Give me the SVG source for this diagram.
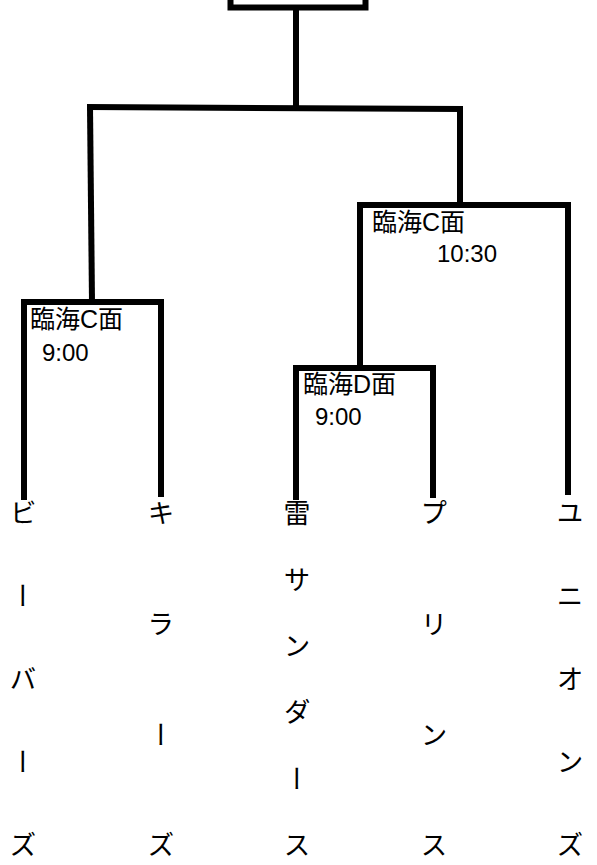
<svg xmlns="http://www.w3.org/2000/svg" width="597" height="865" viewBox="0 0 597 865">
<style>
.ln{fill:none;stroke:#000;stroke-width:6;stroke-linecap:butt;stroke-linejoin:miter}
.lbl{font-family:"Liberation Sans","Noto Sans CJK JP",sans-serif;font-size:25px;fill:#000}
.num{font-family:"Liberation Sans","Noto Sans CJK JP",sans-serif;font-size:24px;fill:#000}
.team{font-family:"Noto Sans CJK JP",sans-serif;font-size:27px;fill:#000;writing-mode:vertical-rl;text-anchor:middle}
</style>
<rect width="597" height="865" fill="#fff"/>
<g id="final">
<rect class="ln" x="230.5" y="-10" width="135" height="17.5"/>
</g>
<g id="connectors">
<path class="ln" d="M296,8 L296,108"/>
<path class="ln" d="M87,107 L463,109"/>
<path class="ln" d="M90,107 L92,302"/>
<path class="ln" d="M460,109 L460,205"/>
<polyline class="ln" points="24,500 24,302 161,302 161,497"/>
<polyline class="ln" points="360,367 360,205 568,205 568,495"/>
<polyline class="ln" points="296,500 296,368 433,368 433,498"/>
</g>
<g id="match-c1">
<text class="lbl" x="30" y="328">臨海C面</text>
<text class="num" x="42" y="361">9:00</text>
</g>
<g id="match-c2">
<text class="lbl" x="372" y="231">臨海C面</text>
<text class="num" x="437" y="262">10:30</text>
</g>
<g id="match-d1">
<text class="lbl" x="303" y="393">臨海D面</text>
<text class="num" x="315" y="425">9:00</text>
</g>
<g id="team-beavers">
<text class="team"><tspan x="23" y="513">ビ</tspan><tspan x="23" y="596">ー</tspan><tspan x="23" y="679">バ</tspan><tspan x="23" y="762">ー</tspan><tspan x="23" y="845">ズ</tspan></text>
</g>
<g id="team-killers">
<text class="team"><tspan x="161" y="513">キ</tspan><tspan x="161" y="623.7">ラ</tspan><tspan x="161" y="734.3">ー</tspan><tspan x="161" y="845">ズ</tspan></text>
</g>
<g id="team-thunders">
<text class="team"><tspan x="297" y="513">雷</tspan><tspan x="297" y="579.4">サ</tspan><tspan x="297" y="645.8">ン</tspan><tspan x="297" y="712.2">ダ</tspan><tspan x="297" y="778.6">ー</tspan><tspan x="297" y="845">ス</tspan></text>
</g>
<g id="team-princes">
<text class="team"><tspan x="434" y="513">プ</tspan><tspan x="434" y="623.7">リ</tspan><tspan x="434" y="734.3">ン</tspan><tspan x="434" y="845">ス</tspan></text>
</g>
<g id="team-unions">
<text class="team"><tspan x="570" y="513">ユ</tspan><tspan x="570" y="596">ニ</tspan><tspan x="570" y="679">オ</tspan><tspan x="570" y="762">ン</tspan><tspan x="570" y="845">ズ</tspan></text>
</g>
</svg>
